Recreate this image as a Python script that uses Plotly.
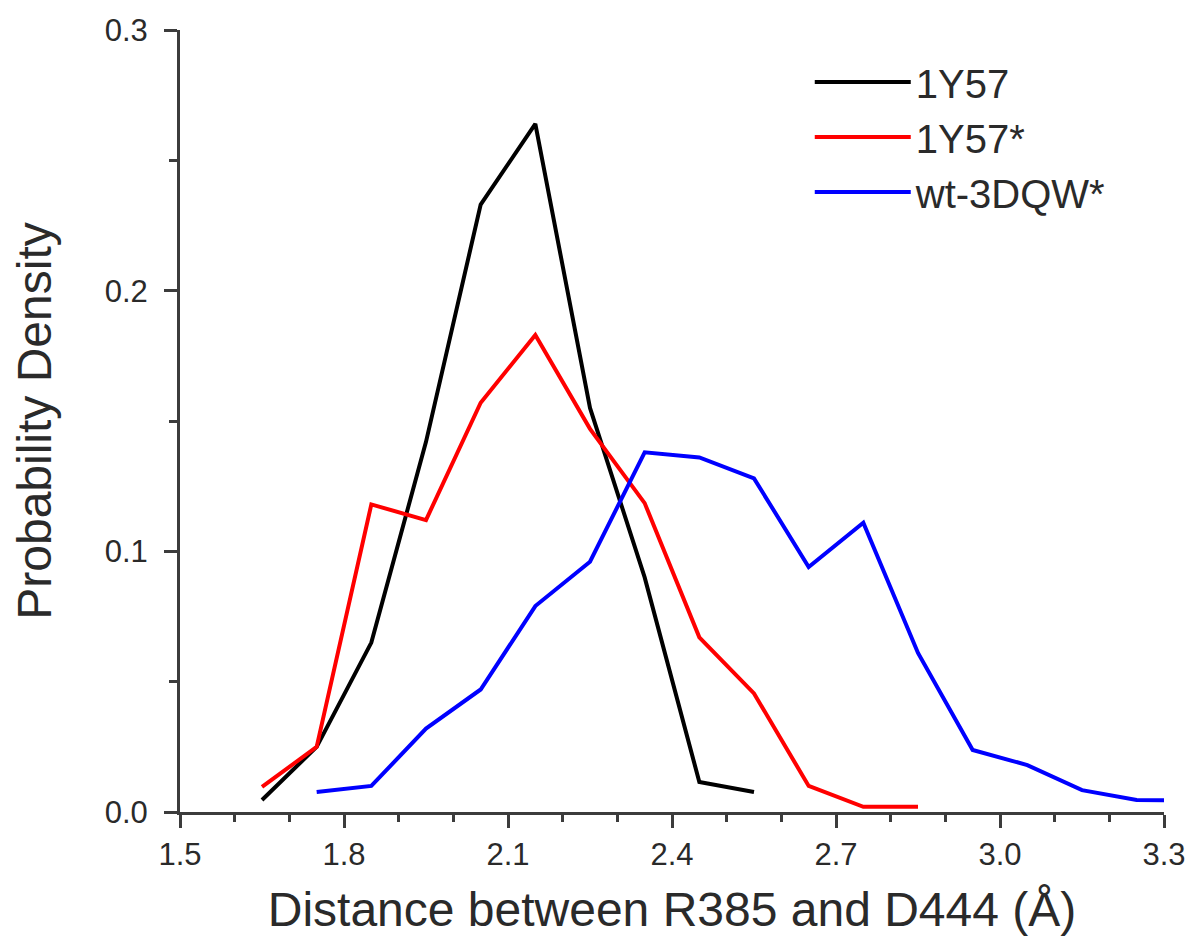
import plotly.graph_objects as go

# Bin centres (Å) and probability densities for each system
dist_1y57 = [1.65, 1.75, 1.85, 1.95, 2.05, 2.15, 2.25, 2.35, 2.45, 2.55]
dens_1y57 = [0.0046, 0.025, 0.065, 0.142, 0.233, 0.264, 0.155, 0.090, 0.0115, 0.0077]

dist_1y57s = [1.65, 1.75, 1.85, 1.95, 2.05, 2.15, 2.25, 2.35, 2.45, 2.55, 2.65, 2.75, 2.85]
dens_1y57s = [0.0096, 0.025, 0.118, 0.112, 0.157, 0.183, 0.147, 0.1185, 0.067, 0.0455, 0.010, 0.002, 0.002]

dist_wt = [1.75, 1.85, 1.95, 2.05, 2.15, 2.25, 2.35, 2.45, 2.55, 2.65, 2.75, 2.85,
           2.95, 3.05, 3.15, 3.25, 3.35]
dens_wt = [0.0077, 0.010, 0.032, 0.047, 0.079, 0.096, 0.138, 0.136, 0.128, 0.094, 0.111, 0.061,
           0.0238, 0.018, 0.0084, 0.0046, 0.0045]

series_names = ["1Y57", "1Y57*", "wt-3DQW*"]
series_colors = ["#000000", "#ff0000", "#0000ff"]

x_range = [1.5, 3.3]
y_range = [0.0, 0.3]

FONT = "Liberation Sans, Arial, sans-serif"
AXIS_COLOR = "#3c3c3c"
TEXT_COLOR = "#2a2a2a"

fig = go.Figure()
for name, xs, ys, col in zip(series_names,
                             [dist_1y57, dist_1y57s, dist_wt],
                             [dens_1y57, dens_1y57s, dens_wt],
                             series_colors):
    fig.add_trace(go.Scatter(x=xs, y=ys, mode="lines", name=name,
                             line=dict(color=col, width=4)))

common = dict(showline=True, linecolor=AXIS_COLOR, linewidth=3, showgrid=False,
              zeroline=False, tickcolor=AXIS_COLOR, tickwidth=2.5, automargin=False)

fig.update_layout(
    width=1191, height=946,
    margin=dict(l=180, r=27, t=30, b=134),
    plot_bgcolor="white", paper_bgcolor="white",
    font=dict(family=FONT, color=TEXT_COLOR),
    xaxis=dict(range=x_range, tick0=1.5, dtick=0.3, tickformat=".1f",
               ticks="outside", ticklen=13,
               minor=dict(ticks="outside", dtick=0.1, ticklen=7, tickwidth=2.5, tickcolor=AXIS_COLOR),
               tickfont=dict(size=31, family=FONT, color=TEXT_COLOR),
               title=dict(text="Distance between R385 and D444 (Å)",
                          font=dict(size=48, family=FONT, color=TEXT_COLOR), standoff=22),
               **common),
    yaxis=dict(range=y_range, tick0=0, dtick=0.1, tickformat=".1f",
               ticks="outside", ticklen=13, ticklabelstandoff=10,
               minor=dict(ticks="outside", dtick=0.05, ticklen=8, tickwidth=2.5, tickcolor=AXIS_COLOR),
               tickfont=dict(size=31, family=FONT, color=TEXT_COLOR),
               title=dict(text="Probability Density",
                          font=dict(size=48, family=FONT, color=TEXT_COLOR), standoff=38),
               **common),
    # mirrored frame on top and right with inward ticks
    xaxis2=dict(range=x_range, overlaying="x", anchor="y", side="top",
                tick0=1.5, dtick=0.3, ticks="inside", ticklen=9, showticklabels=False,
                minor=dict(ticks="inside", dtick=0.1, ticklen=7, tickwidth=2.5, tickcolor=AXIS_COLOR),
                **common),
    yaxis2=dict(range=y_range, overlaying="y", anchor="x", side="right",
                tick0=0, dtick=0.1, ticks="inside", ticklen=9, showticklabels=False,
                minor=dict(ticks="inside", dtick=0.05, ticklen=8, tickwidth=2.5, tickcolor=AXIS_COLOR),
                **common),
    legend=dict(x=0.64, y=0.975, xanchor="left", yanchor="top",
                bgcolor="rgba(0,0,0,0)", itemwidth=96,
                font=dict(size=40, family=FONT, color=TEXT_COLOR)),
    showlegend=True,
)

fig.write_html("out.html")
